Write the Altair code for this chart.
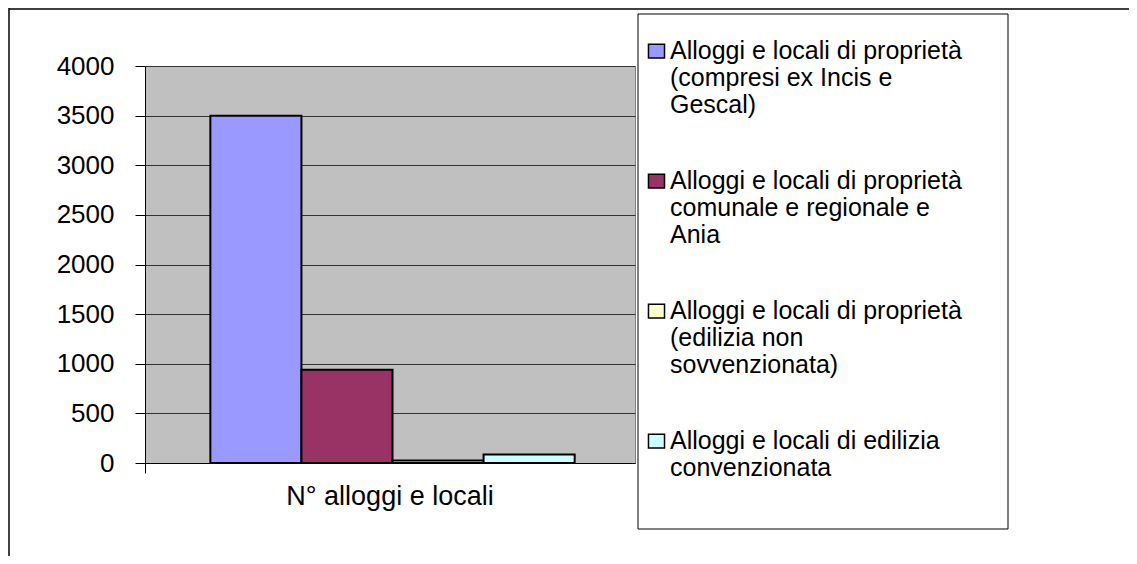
import altair as alt
import pandas as pd

category = ["N° alloggi e locali"]
series = [
    "Alloggi e locali di proprietà|(compresi ex Incis e|Gescal)",
    "Alloggi e locali di proprietà|comunale e regionale e|Ania",
    "Alloggi e locali di proprietà|(edilizia non|sovvenzionata)",
    "Alloggi e locali di edilizia|convenzionata",
]
values = [3500, 940, 25, 85]
colors = ["#9999FF", "#993366", "#FFFFCC", "#CCFFFF"]
y_ticks = [0, 500, 1000, 1500, 2000, 2500, 3000, 3500, 4000]

df = pd.DataFrame({"cat": category * len(series), "serie": series, "val": values})
one = pd.DataFrame({"k": [0]})

FONT = "Liberation Sans"

# decorative frames (legend box and outer chart border)
legend_box = alt.Chart(one).mark_rect(fill="white", stroke="black", strokeWidth=1).encode(
    x=alt.value(493), x2=alt.value(863), y=alt.value(-52), y2=alt.value(463)
)
border_left = alt.Chart(one).mark_rule(color="black", strokeWidth=1.5).encode(
    x=alt.value(-136), y=alt.value(-58), y2=alt.value(500)
)
border_top = alt.Chart(one).mark_rule(color="black", strokeWidth=1.5).encode(
    x=alt.value(-136), x2=alt.value(1000), y=alt.value(-57)
)

sym_path = "M-1.07,0.75H1.07V2.6H-1.07Z"

bars = alt.Chart(df).mark_bar(stroke="black", strokeWidth=2).encode(
    x=alt.X("cat:N", title=None,
            scale=alt.Scale(paddingInner=0, paddingOuter=0),
            axis=alt.Axis(labelAngle=0, labelFontSize=27, labelFont=FONT, labelColor="black",
                          labelPadding=10, labelLimit=500, domainColor="black", tickColor="black",
                          tickSize=10, bandPosition=0, ticks=True)),
    xOffset=alt.XOffset("serie:N", sort=series,
                        scale=alt.Scale(paddingInner=0, paddingOuter=0.69, align=0.52)),
    y=alt.Y("val:Q", title=None,
            scale=alt.Scale(domain=[0, 4000]),
            axis=alt.Axis(values=y_ticks, format="d", labelFontSize=26, labelFont=FONT,
                          labelColor="black", labelPadding=21, tickSize=10, tickColor="black",
                          domainColor="black", gridColor="#333333", gridWidth=1)),
    color=alt.Color("serie:N", sort=series,
                    scale=alt.Scale(domain=series, range=colors),
                    legend=alt.Legend(title=None, orient="none", legendX=499, legendY=-40,
                                      padding=0,
                                      labelFontSize=25, labelFont=FONT, labelColor="black",
                                      labelExpr="split(datum.label, '|')",
                                      labelBaseline="top", labelLimit=500, labelOffset=1,
                                      symbolType=sym_path, symbolSize=225,
                                      symbolStrokeColor="black", symbolStrokeWidth=1.5,
                                      rowPadding=38)),
)

chart = alt.layer(legend_box, border_left, border_top, bars).properties(
    width=490, height=397,
    background="white",
    autosize=alt.AutoSizeParams(type="none"),
    padding={"left": 137, "top": 58, "right": 494, "bottom": 93},
).configure_view(
    fill="#C0C0C0", stroke="#808080", strokeWidth=1
)

chart.save("out.html", embed_options={"renderer": "svg", "actions": False})
